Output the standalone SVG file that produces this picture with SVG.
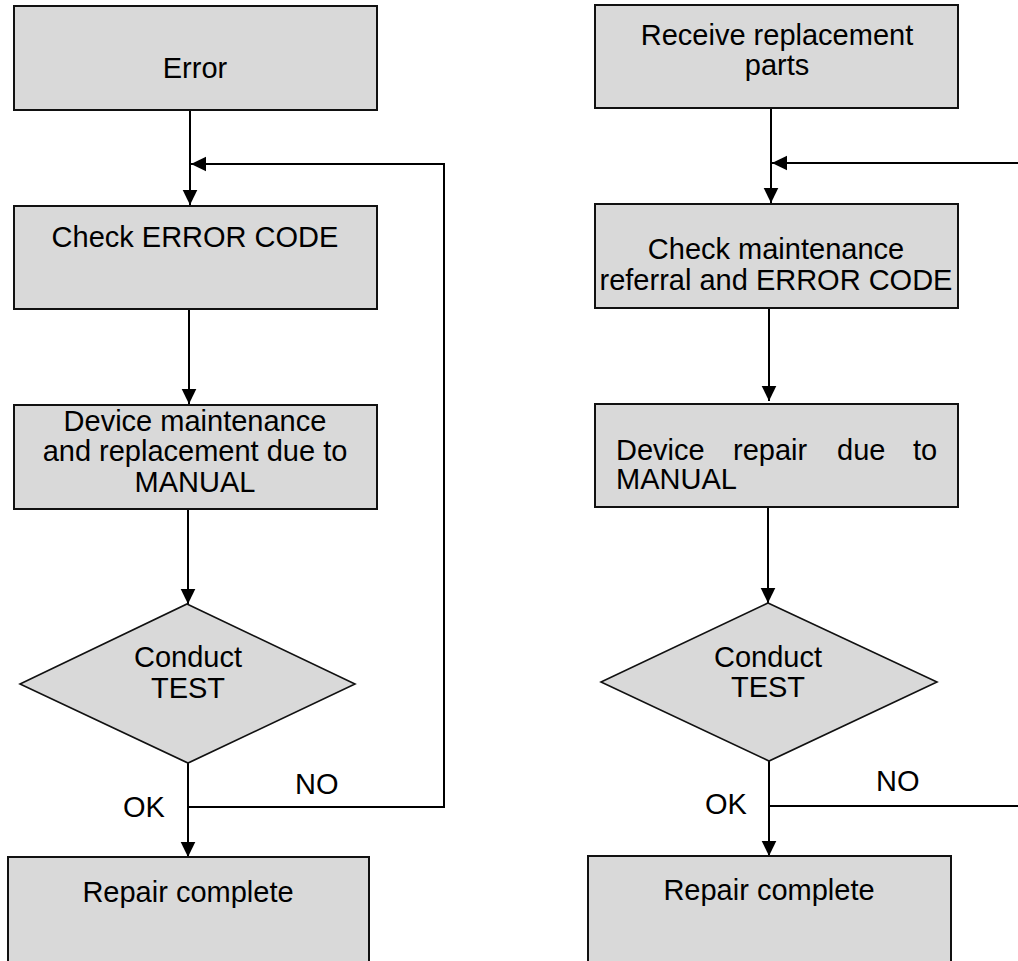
<svg xmlns="http://www.w3.org/2000/svg" width="1018" height="961" viewBox="0 0 1018 961">
<defs>
<style>
.box{fill:#d9d9d9;stroke:#111;stroke-width:2}
.dia{fill:#d9d9d9;stroke:#111;stroke-width:1.6}
.t{font-family:"Liberation Sans",Arial,sans-serif;font-size:29px;fill:#000}
.c{text-anchor:middle}
.ln{fill:none;stroke:#000;stroke-width:2}
</style>
<marker id="ah" markerUnits="userSpaceOnUse" markerWidth="16" markerHeight="16" viewBox="0 0 16 16" refX="15" refY="8" orient="auto">
<path d="M0,0.7 L15,8 L0,15.3 Z" fill="#000"/>
</marker>
</defs>
<rect width="1018" height="961" fill="#fff"/>

<g id="connectors">
<line class="ln" x1="190" y1="110" x2="190" y2="205" marker-end="url(#ah)"/>
<line class="ln" x1="189" y1="309" x2="189" y2="404" marker-end="url(#ah)"/>
<line class="ln" x1="188" y1="509" x2="188" y2="604" marker-end="url(#ah)"/>
<line class="ln" x1="188" y1="763" x2="188" y2="857" marker-end="url(#ah)"/>
<polyline class="ln" points="188,807 444,807 444,164 191,164" marker-end="url(#ah)"/>

<line class="ln" x1="771" y1="108" x2="771" y2="203" marker-end="url(#ah)"/>
<line class="ln" x1="769" y1="308" x2="769" y2="401" marker-end="url(#ah)"/>
<line class="ln" x1="768" y1="507" x2="768" y2="603" marker-end="url(#ah)"/>
<line class="ln" x1="769" y1="761" x2="769" y2="856" marker-end="url(#ah)"/>
<line class="ln" x1="769" y1="806" x2="1018" y2="806"/>
<line class="ln" x1="1018" y1="163" x2="772" y2="163" marker-end="url(#ah)"/>

<text class="t" x="123" y="817">OK</text>
<text class="t" x="295" y="794">NO</text>
<text class="t" x="705" y="814">OK</text>
<text class="t" x="876" y="791">NO</text>
</g>

<g id="error">
<rect class="box" x="14" y="6" width="363" height="104"/>
<text class="t c" x="195" y="78">Error</text>
</g>
<g id="check-error-code">
<rect class="box" x="14" y="206" width="363" height="103"/>
<text class="t c" x="195" y="247">Check ERROR CODE</text>
</g>
<g id="device-maintenance">
<rect class="box" x="14" y="405" width="363" height="104"/>
<text class="t c" x="195" y="431">Device maintenance</text>
<text class="t c" x="195" y="461">and replacement due to</text>
<text class="t c" x="195" y="492">MANUAL</text>
</g>
<g id="conduct-test-left">
<polygon class="dia" points="187,604 355,684 188,763 20,684"/>
<text class="t c" x="188" y="667">Conduct</text>
<text class="t c" x="188" y="698">TEST</text>
</g>
<g id="repair-complete-left">
<rect class="box" x="8" y="857" width="361" height="120"/>
<text class="t c" x="188" y="902">Repair complete</text>
</g>

<g id="receive-parts">
<rect class="box" x="595" y="5" width="363" height="103"/>
<text class="t c" x="777" y="45">Receive replacement</text>
<text class="t c" x="777" y="75">parts</text>
</g>
<g id="check-maintenance">
<rect class="box" x="595" y="204" width="363" height="104"/>
<text class="t c" x="776" y="259">Check maintenance</text>
<text class="t c" x="776" y="290">referral and ERROR CODE</text>
</g>
<g id="device-repair">
<rect class="box" x="595" y="404" width="363" height="103"/>
<text class="t" y="460"><tspan x="616">Device</tspan><tspan x="733">repair</tspan><tspan x="837">due</tspan><tspan x="913">to</tspan></text>
<text class="t" x="616" y="489">MANUAL</text>
</g>
<g id="conduct-test-right">
<polygon class="dia" points="768,603 937,682 769,761 601,682"/>
<text class="t c" x="768" y="667">Conduct</text>
<text class="t c" x="768" y="697">TEST</text>
</g>
<g id="repair-complete-right">
<rect class="box" x="588" y="856" width="363" height="120"/>
<text class="t c" x="769" y="900">Repair complete</text>
</g>
</svg>
